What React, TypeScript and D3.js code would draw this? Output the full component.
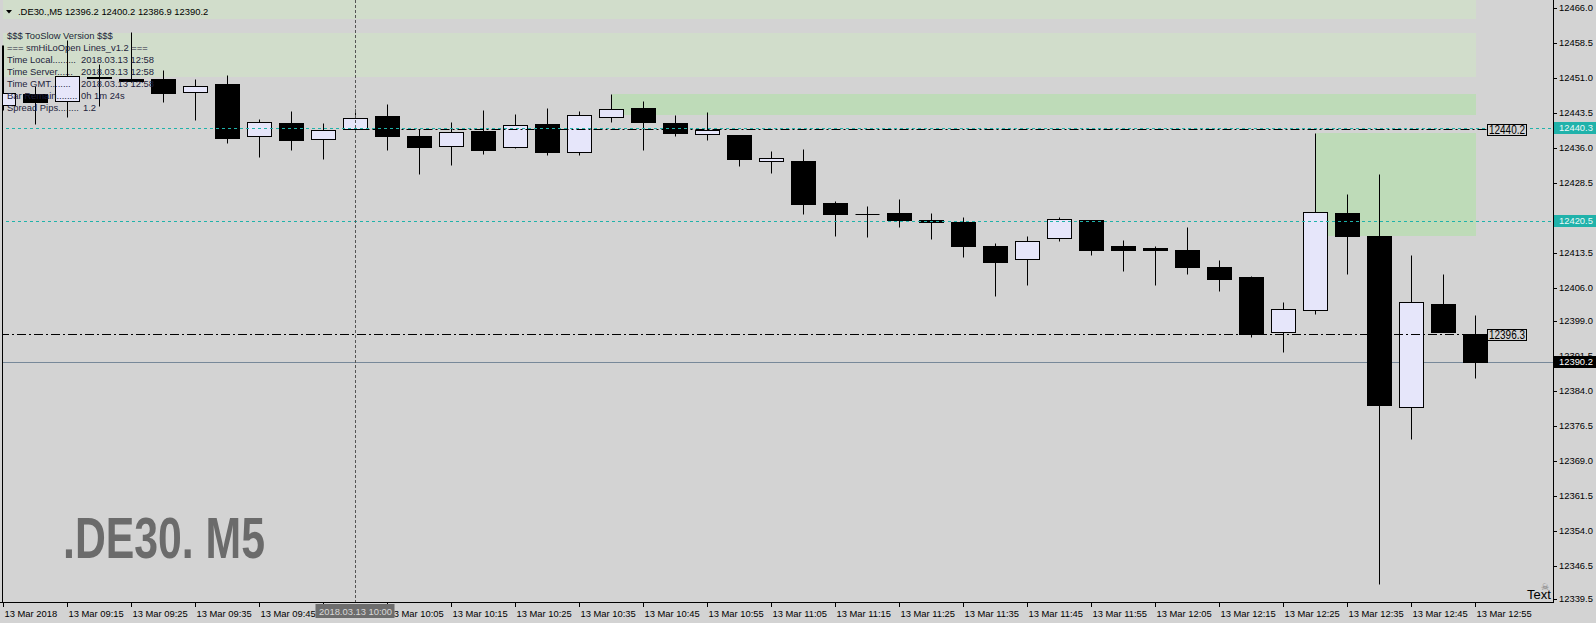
import React from "react";
import * as d3 from "d3";

const symbol = ".DE30.";
const period = "M5";
const dateLabel = "13 Mar";
const yearLabel = "13 Mar 2018";
const crosshairTime = "10:00";
const crosshairLabel = "2018.03.13 10:00";

const barTimes = [
  "09:05", "09:10", "09:15", "09:20", "09:25", "09:30", "09:35", "09:40", "09:45", "09:50",
  "09:55", "10:00", "10:05", "10:10", "10:15", "10:20", "10:25", "10:30", "10:35", "10:40",
  "10:45", "10:50", "10:55", "11:00", "11:05", "11:10", "11:15", "11:20", "11:25", "11:30",
  "11:35", "11:40", "11:45", "11:50", "11:55", "12:00", "12:05", "12:10", "12:15", "12:20",
  "12:25", "12:30", "12:35", "12:40", "12:45", "12:50", "12:55",
];
const opens = [
  12445.2, 12447.6, 12446.0, 12451.3, 12450.8, 12450.8, 12448.1, 12449.7, 12438.5, 12441.4,
  12438.0, 12440.0, 12442.9, 12438.6, 12436.5, 12439.7, 12436.2, 12441.2, 12435.1, 12442.7,
  12444.6, 12441.4, 12439.1, 12438.8, 12433.3, 12433.3, 12424.3, 12421.8, 12422.1, 12420.6,
  12420.3, 12415.1, 12412.2, 12416.7, 12420.6, 12415.1, 12414.6, 12414.2, 12410.6, 12408.4,
  12396.6, 12401.3, 12422.1, 12417.2, 12380.7, 12402.6, 12396.2,
];
const highs = [
  12458.1, 12449.3, 12459.2, 12454.0, 12460.9, 12452.7, 12450.8, 12451.7, 12442.2, 12444.0,
  12441.4, 12444.4, 12445.5, 12440.0, 12441.5, 12444.2, 12443.3, 12444.7, 12443.9, 12447.6,
  12446.1, 12443.1, 12443.7, 12438.9, 12435.4, 12435.8, 12424.7, 12423.6, 12425.1, 12422.1,
  12421.2, 12415.6, 12417.2, 12421.2, 12420.7, 12416.3, 12415.1, 12419.1, 12412.1, 12408.7,
  12403.1, 12439.2, 12426.2, 12430.5, 12413.1, 12409.1, 12400.2,
];
const lows = [
  12444.2, 12441.2, 12442.7, 12445.1, 12450.1, 12445.9, 12442.0, 12437.2, 12434.2, 12435.7,
  12433.7, 12439.9, 12435.5, 12430.5, 12432.4, 12434.8, 12436.1, 12434.6, 12434.6, 12441.6,
  12435.6, 12438.7, 12437.7, 12432.2, 12430.7, 12422.0, 12417.3, 12417.0, 12419.2, 12416.6,
  12412.8, 12404.4, 12406.8, 12416.2, 12413.2, 12409.8, 12406.8, 12409.1, 12405.5, 12395.6,
  12392.4, 12400.5, 12409.1, 12342.8, 12373.8, 12396.6, 12386.9,
];
const closes = [
  12447.7, 12445.8, 12451.4, 12451.1, 12450.4, 12447.7, 12449.3, 12438.2, 12441.7, 12437.8,
  12439.9, 12442.4, 12438.7, 12436.3, 12439.4, 12435.7, 12440.9, 12435.2, 12443.1, 12444.3,
  12441.6, 12439.3, 12439.9, 12433.7, 12433.9, 12424.1, 12422.0, 12421.8, 12420.7, 12420.3,
  12415.1, 12411.7, 12416.1, 12420.8, 12414.3, 12414.3, 12414.3, 12410.6, 12408.1, 12396.2,
  12401.5, 12422.3, 12417.3, 12381.1, 12403.0, 12396.7, 12390.2,
];

const priceTicks = [
  12466.0, 12458.5, 12451.0, 12443.5, 12436.0, 12428.5, 12421.0, 12413.5, 12406.0,
  12399.0, 12391.5, 12384.0, 12376.5, 12369.0, 12361.5, 12354.0, 12346.5, 12339.5,
];

// hi/lo zones: top price, bottom price, first bar (null = from left edge)
const zoneTops = [12470.0, 12460.7, 12447.6, 12439.2];
const zoneBottoms = [12463.6, 12451.3, 12443.0, 12417.3];
const zoneStarts = [null, null, "10:40", "12:30"];
const zoneEnd = "12:55";

const cyanLevels = [12440.3, 12420.5];
const dashDotLevels = [12440.2, 12396.3];
const dashDotStarts = ["10:00", null];
const bidPrice = 12390.2;

const infoLabels = [
  "$$$ TooSlow Version $$$",
  "=== smHiLoOpen Lines_v1.2 ===",
  "Time Local.........",
  "Time Server......",
  "Time GMT........",
  "Bar Remain........",
  "Spread Pips........",
];
const infoValues = ["", "", "2018.03.13 12:58", "2018.03.13 12:58", "2018.03.13 12:58", "0h 1m 24s", "1.2"];

export default function App() {
  const W = 1596;
  const H = 623;
  const plotRight = 1553;
  const plotBottom = 602;
  const font = "'Liberation Sans', Arial, sans-serif";
  const fs = 9.4;

  const x = d3.scaleLinear().domain([0, barTimes.length - 1]).range([3.5, 1475.5]);
  const y = d3.scaleLinear().domain([12339.5, 12466]).range([599, 8]);
  const sy = (p: number) => Math.round(y(p)) + 0.5;
  const idx = (t: string) => barTimes.indexOf(t);
  const fmt = d3.format(".1f");
  const last = barTimes.length - 1;
  const header = `${symbol},${period}  ${fmt(opens[last])} ${fmt(highs[last])} ${fmt(lows[last])} ${fmt(closes[last])}`;

  const crossX = x(idx(crosshairTime));
  const zoneEndX = x(idx(zoneEnd));

  return (
    <>
      <style>{`body{margin:0;background:#d3d3d3}`}</style>
      <svg width={W} height={H} style={{ display: "block" }} fontFamily={font}>
        <defs>
          <clipPath id="plot">
            <rect x={3} y={0} width={plotRight - 3} height={plotBottom} />
          </clipPath>
        </defs>
        <rect x={0} y={0} width={W} height={H} fill="#d3d3d3" />

        <g clipPath="url(#plot)">
          {zoneTops.map((t, i) => {
            const x0 = zoneStarts[i] ? x(idx(zoneStarts[i] as string)) : 0;
            const y0 = Math.round(y(t));
            const y1 = Math.round(y(zoneBottoms[i]));
            return (
              <rect
                key={i}
                x={Math.round(x0)}
                y={y0}
                width={Math.round(zoneEndX) - Math.round(x0)}
                height={y1 - y0}
                fill={i < 2 ? "#d1ddcb" : "#bedbb8"}
              />
            );
          })}

          <line x1={0} x2={plotRight} y1={sy(bidPrice)} y2={sy(bidPrice)} stroke="#778899" />

          {barTimes.map((t, i) => {
            const cx = x(i);
            const o = opens[i];
            const c = closes[i];
            const bull = c >= o;
            const top = sy(Math.max(o, c));
            const bot = sy(Math.min(o, c));
            return (
              <g key={t}>
                <line x1={cx} x2={cx} y1={sy(highs[i])} y2={sy(lows[i])} stroke="#000" />
                {bot - top < 1 ? (
                  <line x1={cx - 12} x2={cx + 12} y1={top} y2={top} stroke="#000" />
                ) : (
                  <rect
                    x={cx - 12}
                    y={top}
                    width={24}
                    height={bot - top}
                    fill={bull ? "#e6e6fa" : "#000"}
                    stroke="#000"
                  />
                )}
              </g>
            );
          })}

          {cyanLevels.map((p) => (
            <line key={p} x1={0} x2={plotRight} y1={sy(p)} y2={sy(p)} stroke="#20b2aa" strokeDasharray="3,3" />
          ))}
          {dashDotLevels.map((p, i) => (
            <line
              key={p}
              x1={dashDotStarts[i] ? x(idx(dashDotStarts[i] as string)) : 0}
              x2={1487}
              y1={sy(p)}
              y2={sy(p)}
              stroke="#000"
              strokeDasharray="9,3,2,3"
            />
          ))}

          <line x1={crossX} x2={crossX} y1={0} y2={plotBottom} stroke="#555" strokeDasharray="3,2" />
        </g>

        {/* left frame line */}
        <line x1={2.5} x2={2.5} y1={sy(highs[0])} y2={plotBottom} stroke="#000" />

        {/* dash-dot level labels */}
        {dashDotLevels.map((p) => (
          <g key={p}>
            <rect x={1487.5} y={Math.round(y(p)) - 4.5} width={39} height={11} fill="#d3d3d3" stroke="#000" />
            <text
              x={1489}
              y={Math.round(y(p)) + 5}
              fontSize={12}
              textLength={36}
              lengthAdjust="spacingAndGlyphs"
              fill="#000"
            >
              {fmt(p)}
            </text>
          </g>
        ))}

        {/* info text */}
        {infoLabels.map((l, i) => (
          <g key={l} fontSize={fs} fill="#1e1e3c">
            <text x={7} y={38.5 + i * 12.1}>{l}</text>
            {infoValues[i] && (
              <text x={i === 6 ? 83 : 81} y={38.5 + i * 12.1}>{infoValues[i]}</text>
            )}
          </g>
        ))}

        {/* header */}
        <polygon points="6,10 12,10 9,13.5" fill="#000" />
        <text x={18} y={15} fontSize={fs} fill="#000">{header}</text>

        {/* watermark */}
        <text
          x={63}
          y={558}
          fontSize={57}
          fontWeight="bold"
          fill="#6b6b6b"
          textLength={202}
          lengthAdjust="spacingAndGlyphs"
          fontFamily="'Liberation Sans Narrow', 'Liberation Sans', Arial, sans-serif"
        >
          {`${symbol} ${period}`}
        </text>

        {/* axes */}
        <line x1={plotRight + 0.5} x2={plotRight + 0.5} y1={0} y2={plotBottom + 1} stroke="#000" />
        <line x1={0} x2={plotRight + 1} y1={plotBottom + 0.5} y2={plotBottom + 0.5} stroke="#000" />

        {priceTicks.map((p) => (
          <g key={p}>
            <line x1={plotRight} x2={plotRight + 4} y1={sy(p)} y2={sy(p)} stroke="#000" />
            <text x={1559} y={Math.round(y(p))} dy="0.35em" fontSize={fs} fill="#000">
              {fmt(p)}
            </text>
          </g>
        ))}

        {cyanLevels.map((p) => (
          <g key={p}>
            <rect x={1554} y={Math.round(y(p)) - 6} width={42} height={12} fill="#20b2aa" />
            <text x={1559} y={Math.round(y(p))} dy="0.35em" fontSize={fs} fill="#eaf8f8">
              {fmt(p)}
            </text>
          </g>
        ))}
        <rect x={1554} y={Math.round(y(bidPrice)) - 6} width={42} height={12} fill="#000" />
        <text x={1559} y={Math.round(y(bidPrice))} dy="0.35em" fontSize={fs} fill="#fff">
          {fmt(bidPrice)}
        </text>

        {barTimes.map((t, i) =>
          i % 2 === 0 ? (
            <g key={t}>
              <line x1={x(i)} x2={x(i)} y1={plotBottom} y2={plotBottom + 5} stroke="#000" />
              <text x={x(i) + 1} y={616.5} fontSize={fs} fill="#000">
                {i === 0 ? yearLabel : `${dateLabel} ${t}`}
              </text>
            </g>
          ) : null
        )}
        <rect x={crossX - 40} y={604} width={79} height={14} fill="#6d6d6d" />
        <text x={crossX} y={615} fontSize={fs} fill="#d8d8d8" textAnchor="middle">
          {crosshairLabel}
        </text>

        {/* text object */}
        <text x={1541} y={590} fontSize={9} fill="#777">☠</text>
        <text x={1527} y={599} fontSize={13} fill="#000">Text</text>
      </svg>
    </>
  );
}
